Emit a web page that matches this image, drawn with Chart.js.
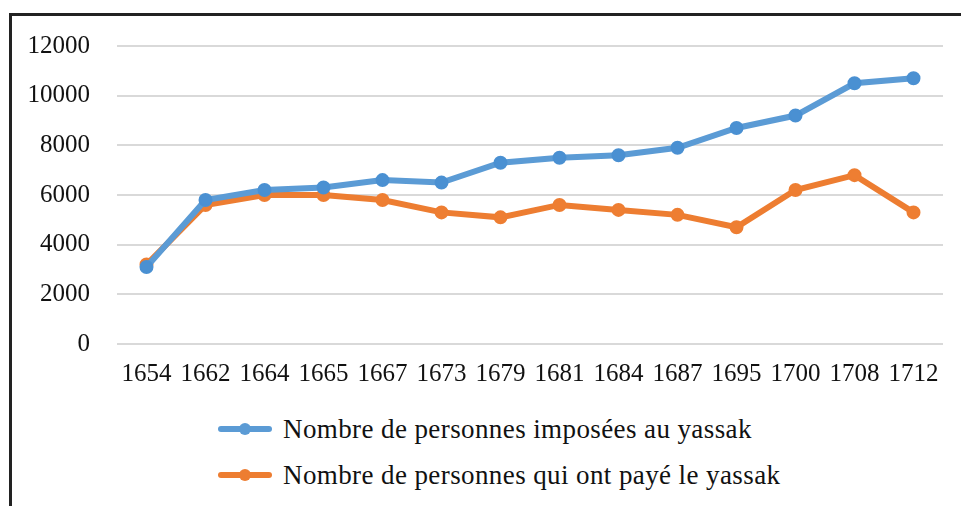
<!DOCTYPE html>
<html>
<head>
<meta charset="utf-8">
<script src="https://cdn.jsdelivr.net/npm/chart.js@4.4.1/dist/chart.umd.min.js"></script>
<style>
    body { margin: 0; background: #fff; width: 961px; height: 506px; overflow: hidden; position: relative; }
    #frame {
        position: absolute; left: 9px; top: 13px; width: 952px; height: 493px;
        border-left: 3px solid #222; border-top: 3px solid #222;
    }
    #wrap { position: absolute; left: 0; top: -12px; width: 949px; height: 402px; }
    .legend { position: absolute; left: 206px; font-family: "Liberation Serif", "Times New Roman", serif; font-size: 27px; letter-spacing: 0.4px; color: #111; }
    .legend .item { position: absolute; left: 0; white-space: nowrap; height: 30px; line-height: 30px; }
    .legend .sym { position: absolute; left: 0; top: 12px; width: 54px; height: 6px; border-radius: 3px; }
    .legend .dot { position: absolute; left: 21px; top: -3px; width: 12px; height: 12px; border-radius: 50%; }
    .legend .txt { position: absolute; left: 65px; top: 0; }
</style>
</head>
<body>
<div id="frame">
    <div id="wrap"><canvas id="lineChart"></canvas></div>
    <div class="legend" id="legend"></div>
</div>
<script>
/* ==============================
   DATA
============================== */

const years = ["1654", "1662", "1664", "1665", "1667", "1673", "1679",
               "1681", "1684", "1687", "1695", "1700", "1708", "1712"];

const imposed = [3100, 5800, 6200, 6300, 6600, 6500, 7300,
                 7500, 7600, 7900, 8700, 9200, 10500, 10700];

const paid = [3200, 5600, 6000, 6000, 5800, 5300, 5100,
              5600, 5400, 5200, 4700, 6200, 6800, 5300];

const seriesNames = [
    "Nombre de personnes imposées au yassak",
    "Nombre de personnes qui ont payé le yassak"
];

const blue = "#5B9BD5";
const orange = "#ED7D31";

/* ==============================
   CHART
============================== */

const tickFont = { family: '"Liberation Serif", "Times New Roman", serif', size: 25 };

function makeSet(label, data, color, dotColor) {
    return {
        label: label,
        data: data,
        borderColor: color,
        backgroundColor: color,
        borderWidth: 6,
        pointRadius: 6,
        pointBorderWidth: 2,
        pointBackgroundColor: dotColor,
        pointBorderColor: dotColor,
        tension: 0
    };
}

const lineChart = new Chart(document.getElementById("lineChart"), {
    type: "line",
    data: {
        labels: years,
        datasets: [
            makeSet(seriesNames[0], imposed, blue, "#4A90D2"),
            makeSet(seriesNames[1], paid, orange, "#EE7E32")
        ]
    },
    options: {
        responsive: true,
        maintainAspectRatio: false,
        animation: false,
        layout: { padding: { top: 0, right: 18, left: 0, bottom: 0 } },
        plugins: {
            legend: { display: false },
            tooltip: { enabled: false }
        },
        scales: {
            x: {
                offset: true,
                grid: { display: false, drawTicks: false },
                border: { display: false },
                ticks: { font: tickFont, color: "#111", padding: 15, maxRotation: 0, autoSkip: false },
                afterFit: s => { s.height = 62; }
            },
            y: {
                min: 0,
                max: 12000,
                grid: { color: "#d9d9d9", lineWidth: 2, drawTicks: false },
                border: { display: false },
                ticks: {
                    stepSize: 2000, font: tickFont, color: "#111", padding: 27,
                    callback: v => String(v)
                },
                afterFit: s => { s.width = 105; }
            }
        }
    }
});

/* ==============================
   LEGEND (vertical, like the original)
============================== */

const legend = document.getElementById("legend");
const colors = [blue, orange];
seriesNames.forEach((name, i) => {
    const item = document.createElement("div");
    item.className = "item";
    item.style.top = (398 + i * 46) + "px";
    item.innerHTML =
        '<div class="sym" style="background:' + colors[i] + '">' +
        '<div class="dot" style="background:' + colors[i] + '"></div></div>' +
        '<span class="txt">' + name + '</span>';
    legend.appendChild(item);
});
</script>
</body>
</html>
